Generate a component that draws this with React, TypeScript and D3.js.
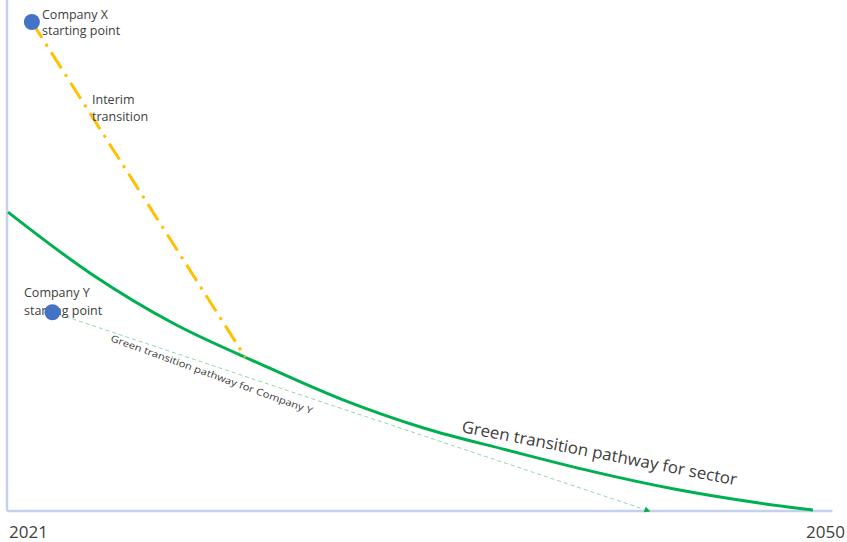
import React from "react";
import * as d3 from "d3";

const W = 847;
const H = 542;

// Sector pathway (year, index)
const sectorYears = [2021, 2024, 2027, 2030, 2033, 2036, 2039, 2042, 2045, 2048, 2050];
const sectorValues = [58.5, 46.4, 36.6, 29.0, 21.9, 16.2, 11.9, 7.8, 4.3, 1.6, 0.2];

// Company X interim transition (start -> meets sector curve)
const companyXYears = [2021.86, 2029.55];
const companyXValues = [95.7, 30.1];

// Company Y pathway (start -> target)
const companyYYears = [2022.6, 2044.1];
const companyYValues = [38.9, 0];

const tickLabels = ["2021", "2050"];
const axisYearMax = 2050.7;

const COLORS = {
  axis: "#C3D1EC",
  green: "#00B050",
  yellow: "#FFC000",
  blue: "#4472C4",
  paleGreen: "#92D9A5",
  text: "#404040",
};

const FONT = "'Open Sans', 'Noto Sans', sans-serif";
const LABEL_SIZE = 12.5;

export default function App() {
  const x = d3.scaleLinear().domain([2021, 2050]).range([8, 813]);
  const y = d3.scaleLinear().domain([0, 100]).range([511, 0]);

  const sectorPts: [number, number][] = sectorYears.map((yr, i) => [x(yr), y(sectorValues[i])]);
  const sectorPath = d3.line().curve(d3.curveCatmullRom.alpha(0.5))(sectorPts) || "";

  const xPts: [number, number][] = companyXYears.map((yr, i) => [x(yr), y(companyXValues[i])]);
  const xPath = d3.line()(xPts) || "";

  const yPts: [number, number][] = companyYYears.map((yr, i) => [x(yr), y(companyYValues[i])]);
  const yPath = d3.line()(yPts) || "";

  const x0 = x(2021) - 1;
  const y0 = y(0);

  return (
    <svg
      width={W}
      height={H}
      style={{ position: "absolute", left: 0, top: 0, background: "#fff" }}
      fontFamily={FONT}
    >
      <defs>
        <marker id="arrowG" viewBox="0 0 10 10" refX="8" refY="5" markerWidth="6" markerHeight="6" orient="auto">
          <path d="M0,0 L10,5 L0,10 z" fill={COLORS.green} />
        </marker>
      </defs>

      {/* axes */}
      <line x1={x0} x2={x0} y1={0} y2={y0} stroke={COLORS.axis} strokeWidth={2.5} />
      <line x1={x0} x2={x(axisYearMax)} y1={y0} y2={y0} stroke={COLORS.axis} strokeWidth={2.5} />

      {/* tick labels */}
      <text x={x(2021) + 1} y={538} fontSize={17} fill={COLORS.text} textAnchor="start">
        {tickLabels[0]}
      </text>
      <text x={W - 2} y={538} fontSize={17} fill={COLORS.text} textAnchor="end">
        {tickLabels[1]}
      </text>

      {/* Company Y pathway */}
      <path
        d={yPath}
        fill="none"
        stroke={COLORS.paleGreen}
        strokeWidth={1}
        strokeDasharray="4 3"
        markerEnd="url(#arrowG)"
      />

      {/* sector pathway */}
      <path d={sectorPath} fill="none" stroke={COLORS.green} strokeWidth={3} />

      {/* Company X interim */}
      <path
        d={xPath}
        fill="none"
        stroke={COLORS.yellow}
        strokeWidth={3}
        strokeDasharray="19 7 3 7"
      />

      {/* Company X */}
      <text x={42} y={19} fontSize={LABEL_SIZE} fill={COLORS.text}>Company X</text>
      <text x={42} y={35} fontSize={LABEL_SIZE} fill={COLORS.text}>starting point</text>
      <circle cx={xPts[0][0]} cy={xPts[0][1]} r={8} fill={COLORS.blue} />

      <text x={92} y={104} fontSize={LABEL_SIZE} fill={COLORS.text}>Interim</text>
      <text x={92} y={121} fontSize={LABEL_SIZE} fill={COLORS.text}>transition</text>

      {/* Company Y */}
      <text x={24} y={297} fontSize={LABEL_SIZE} fill={COLORS.text}>Company Y</text>
      <text x={24} y={315} fontSize={LABEL_SIZE} fill={COLORS.text}>starting point</text>
      <circle cx={yPts[0][0]} cy={yPts[0][1]} r={8} fill={COLORS.blue} />

      {/* rotated labels */}
      <text
        transform="translate(110,341) rotate(20)"
        fontSize={9.5}
        fill={COLORS.text}
        textLength={214}
        lengthAdjust="spacingAndGlyphs"
      >
        Green transition pathway for Company Y
      </text>
      <text
        transform="translate(461,432) rotate(11)"
        fontSize={16.5}
        fill={COLORS.text}
        textLength={280}
        lengthAdjust="spacingAndGlyphs"
      >
        Green transition pathway for sector
      </text>
    </svg>
  );
}
